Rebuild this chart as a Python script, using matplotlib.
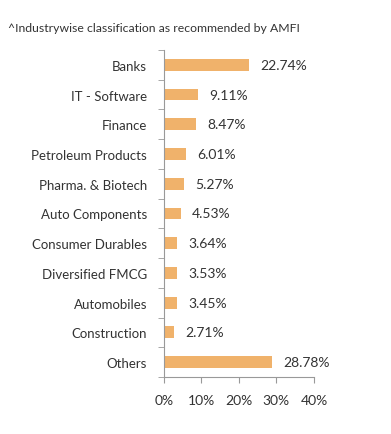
import matplotlib.pyplot as plt
import numpy as np

plt.rcParams['font.family'] = ['Lato', 'DejaVu Sans']

categorias = ['Banks', 'IT - Software', 'Finance', 'Petroleum Products',
              'Pharma. & Biotech', 'Auto Components', 'Consumer Durables',
              'Diversified FMCG', 'Automobiles', 'Construction', 'Others']
valores = [22.74, 9.11, 8.47, 6.01, 5.27, 4.53, 3.64, 3.53, 3.45, 2.71, 28.78]
xticks = [0, 10, 20, 30, 40]

gris = '#999999'
texto = '#333333'

fig = plt.figure(figsize=(3.91, 4.35), dpi=100)
ax = fig.add_axes([0.419, 0.131, 0.384, 0.752])

y = np.arange(len(categorias))
ax.barh(y, valores, height=0.4, color='#F0B26B')
for yi, v in zip(y, valores):
    ax.text(v + 3.0, yi, f'{v:.2f}%', va='center', ha='left', fontsize=10, color=texto)

ax.set_ylim(len(categorias) - 0.5, -0.5)
ax.set_xlim(0, 40)
ax.set_yticks(y)
ax.set_yticklabels(categorias, fontsize=9.5, color=texto)
ax.set_yticks(np.arange(-0.5, len(categorias)), minor=True)
ax.tick_params(axis='y', which='major', length=0, pad=12)
ax.tick_params(axis='y', which='minor', length=4, color=gris, direction='out')
ax.set_xticks(xticks)
ax.set_xticklabels([f'{t}%' for t in xticks], fontsize=10, color=texto)
ax.tick_params(axis='x', length=4, color=gris, pad=8)

for s in ['top', 'right']:
    ax.spines[s].set_visible(False)
for s in ['left', 'bottom']:
    ax.spines[s].set_color(gris)

fig.text(0.02, 0.935, '^Industrywise classification as recommended by AMFI',
         fontsize=8.8, color=texto, va='center')

fig.savefig('out.png', dpi=100)
